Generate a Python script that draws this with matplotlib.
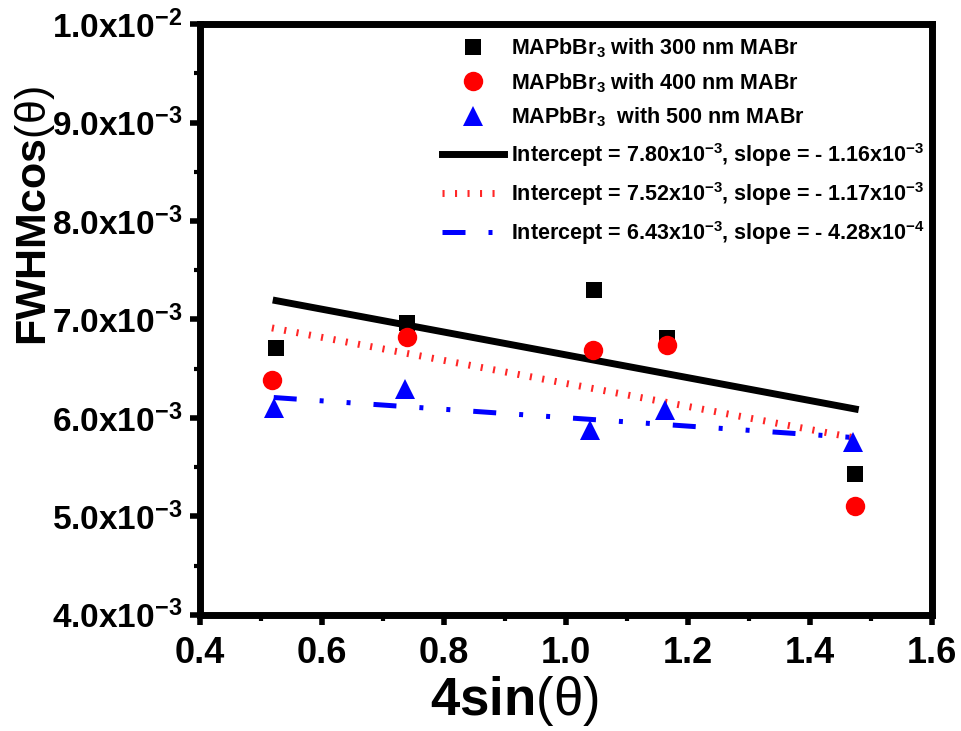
import numpy as np
import matplotlib
matplotlib.use("Agg")
import matplotlib.pyplot as plt
from matplotlib.ticker import MultipleLocator, FuncFormatter

plt.rcParams['font.family'] = ['Liberation Sans', 'DejaVu Sans']
plt.rcParams['font.weight'] = 'bold'
plt.rcParams['mathtext.fontset'] = 'custom'
plt.rcParams['mathtext.rm'] = 'Liberation Sans:weight=normal'
plt.rcParams['mathtext.bf'] = 'Liberation Sans:weight=bold'
plt.rcParams['mathtext.default'] = 'bf'

# Williamson-Hall data: 4sin(theta) vs FWHM*cos(theta)
x_300 = [0.525, 0.739, 1.046, 1.166, 1.474]
y_300 = [6.71e-3, 6.96e-3, 7.30e-3, 6.81e-3, 5.43e-3]
x_400 = [0.518, 0.739, 1.044, 1.166, 1.474]
y_400 = [6.38e-3, 6.82e-3, 6.69e-3, 6.74e-3, 5.10e-3]
x_500 = [0.521, 0.736, 1.040, 1.162, 1.471]
y_500 = [6.10e-3, 6.29e-3, 5.88e-3, 6.08e-3, 5.75e-3]

# linear fits (intercept, slope)
fit_300 = (7.80e-3, -1.16e-3)
fit_400 = (7.52e-3, -1.17e-3)
fit_500 = (6.43e-3, -4.28e-4)

fig = plt.figure(figsize=(9.61, 7.31), dpi=100)
ax = fig.add_axes([0.208, 0.159, 0.762, 0.808])

ax.plot(x_300, y_300, 's', color='black', ms=12, mew=0, label=r'MAPbBr$_3$ with 300 nm MABr', zorder=4)
ax.plot(x_400, y_400, 'o', color='red', ms=14, mew=0, label=r'MAPbBr$_3$ with 400 nm MABr', zorder=4)
ax.plot(x_500, y_500, '^', color='blue', ms=15, mew=0, label=r'MAPbBr$_3$  with 500 nm MABr', zorder=4)

def fit_line(xs, fit):
    xx = np.array([min(xs), max(xs)])
    return xx, fit[0] + fit[1] * xx

xx, yy = fit_line(x_300, fit_300)
ax.plot(xx, yy, '-', color='black', lw=5,
        label=r'Intercept = 7.80x10$^{-3}$, slope = - 1.16x10$^{-3}$', zorder=3)
xx, yy = fit_line(x_400, fit_400)
ax.plot(xx, yy, color='red', lw=5, dashes=(0.3, 1.5), dash_capstyle='butt', alpha=0.85,
        label=r'Intercept = 7.52x10$^{-3}$, slope = - 1.17x10$^{-3}$', zorder=3)
xx, yy = fit_line(x_500, fit_500)
ax.plot(xx, yy, color='blue', lw=3.6, dashes=(4.6, 4.6, 0.8, 4.6, 0.8, 4.6), dash_capstyle='butt',
        label=r'Intercept = 6.43x10$^{-3}$, slope = - 4.28x10$^{-4}$', zorder=3)

ax.set_xlim(0.4, 1.6)
ax.set_ylim(4.0e-3, 1.0e-2)
ax.xaxis.set_major_locator(MultipleLocator(0.2))
ax.xaxis.set_minor_locator(MultipleLocator(0.1))
ax.yaxis.set_major_locator(MultipleLocator(1e-3))
ax.yaxis.set_minor_locator(MultipleLocator(5e-4))

def sci_fmt(v, pos):
    if v == 0:
        return '0'
    e = int(np.floor(np.log10(abs(v)) + 1e-9))
    m = v / 10**e
    return r'%.1fx10$^{%d}$' % (m, e)

ax.yaxis.set_major_formatter(FuncFormatter(sci_fmt))
ax.xaxis.set_major_formatter(FuncFormatter(lambda v, p: '%.1f' % v))

for s in ax.spines.values():
    s.set_linewidth(5)
ax.tick_params(which='major', direction='out', length=7, width=4, top=False, right=False)
ax.tick_params(which='minor', direction='out', length=4, width=3, top=False, right=False)
ax.tick_params(axis='x', labelsize=26, pad=8)
ax.tick_params(axis='y', labelsize=24, pad=6)

ax.set_xlabel(r'$\mathbf{4sin}\mathrm{(\theta)}$', fontsize=38)
ax.set_ylabel(r'$\mathbf{FWHMcos}\mathrm{(\theta)}$', fontsize=31)
ax.xaxis.set_label_coords(0.43, -0.10)
ax.yaxis.set_label_coords(-0.195, 0.675)

leg = ax.legend(loc='upper left', bbox_to_anchor=(0.31, 1.005), frameon=False, fontsize=15.5,
                numpoints=1, handlelength=2.9, handletextpad=0.33, labelspacing=0.52,
                borderaxespad=0.3)

fig.savefig('out.png', dpi=100)
